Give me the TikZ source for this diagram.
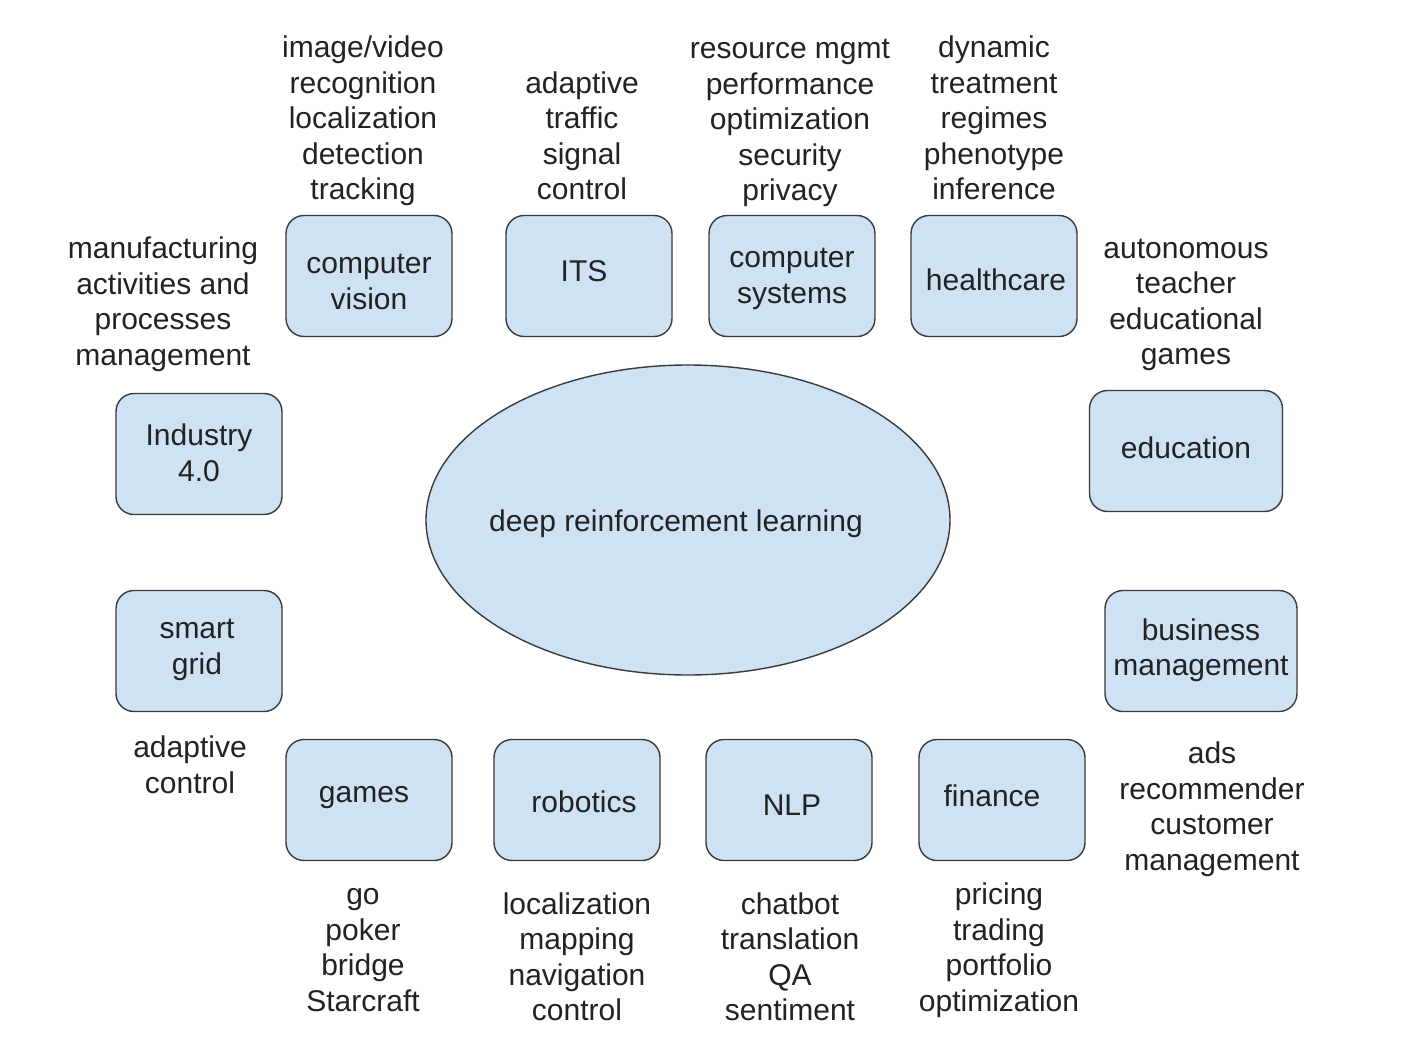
\documentclass[tikz,border=0pt]{standalone}
\usepackage{fontspec}
\setmainfont{Liberation Sans}
\usetikzlibrary{shapes.geometric}
\definecolor{boxfill}{HTML}{CFE2F3}
\definecolor{boxline}{HTML}{3A3A3A}
\definecolor{txt}{HTML}{222222}
\tikzset{
  appbox/.style={draw=boxline, line width=1.4pt, fill=boxfill, rounded corners=18pt,
    minimum width=#1, minimum height=121pt, inner sep=0pt},
  appbox/.default=166pt,
  core/.style={draw=boxline, line width=1.4pt, fill=boxfill, ellipse,
    minimum width=524pt, minimum height=310pt, inner sep=0pt},
  note/.style={inner sep=0pt, align=center, text=txt, font=\fontsize{30}{35.5}\selectfont}
}
\begin{document}
\begin{tikzpicture}[x=1pt,y=-1pt]
\useasboundingbox[fill=white] (0,0) rectangle (1418,1046);
% centre
\node[core] (drl) at (688,520) {};
\node[note] (drlt) at (676,524) {deep reinforcement learning};
% boxes
\node[appbox] (cv) at (369,276) {};
\node[appbox] (its) at (589,276) {};
\node[appbox] (cs) at (792,276) {};
\node[appbox] (hc) at (994,276) {};
\node[appbox] (ind) at (199,454) {};
\node[appbox=193pt] (edu) at (1186,451) {};
\node[appbox] (sg) at (199,651) {};
\node[appbox=192pt] (bm) at (1201,651) {};
\node[appbox] (gm) at (369,800) {};
\node[appbox] (rob) at (577,800) {};
\node[appbox] (nlp) at (789,800) {};
\node[appbox] (fin) at (1002,800) {};
% box labels
\node[note] (cvt) at (369,282) {computer\\vision};
\node[note] (itst) at (584,271) {ITS};
\node[note] (cst) at (792,279) {computer\\systems};
\node[note] (hct) at (996,280) {healthcare};
\node[note] (indt) at (199,453) {Industry\\4.0};
\node[note] (edut) at (1186,448) {education};
\node[note] (sgt) at (197,650) {smart\\grid};
\node[note] (bmt) at (1201,650) {business\\management};
\node[note] (gmt) at (364,798) {games};
\node[note] (robt) at (584,802) {robotics};
\node[note] (nlpt) at (792,805) {NLP};
\node[note] (fint) at (992,796) {finance};
% notes
\node[note] (ncv) at (363,121) {image/video\\recognition\\localization\\detection\\tracking};
\node[note] (nits) at (582,136) {adaptive\\traffic\\signal\\control};
\node[note] (ncs) at (790,123) {resource mgmt\\performance\\optimization\\security\\privacy};
\node[note] (nhc) at (994,118) {dynamic\\treatment\\regimes\\phenotype\\inference};
\node[note] (nind) at (163,304) {manufacturing\\activities and\\processes\\management};
\node[note] (nedu) at (1186,305) {autonomous\\teacher\\educational\\games};
\node[note] (nsg) at (190,765) {adaptive\\control};
\node[note] (nbm) at (1212,809) {ads\\recommender\\customer\\management};
\node[note] (ngm) at (363,950) {go\\poker\\bridge\\Starcraft};
\node[note] (nrob) at (577,957) {localization\\mapping\\navigation\\control};
\node[note] (nnlp) at (790,957) {chatbot\\translation\\QA\\sentiment};
\node[note] (nfin) at (999,950) {pricing\\trading\\portfolio\\optimization};
\end{tikzpicture}
\end{document}
